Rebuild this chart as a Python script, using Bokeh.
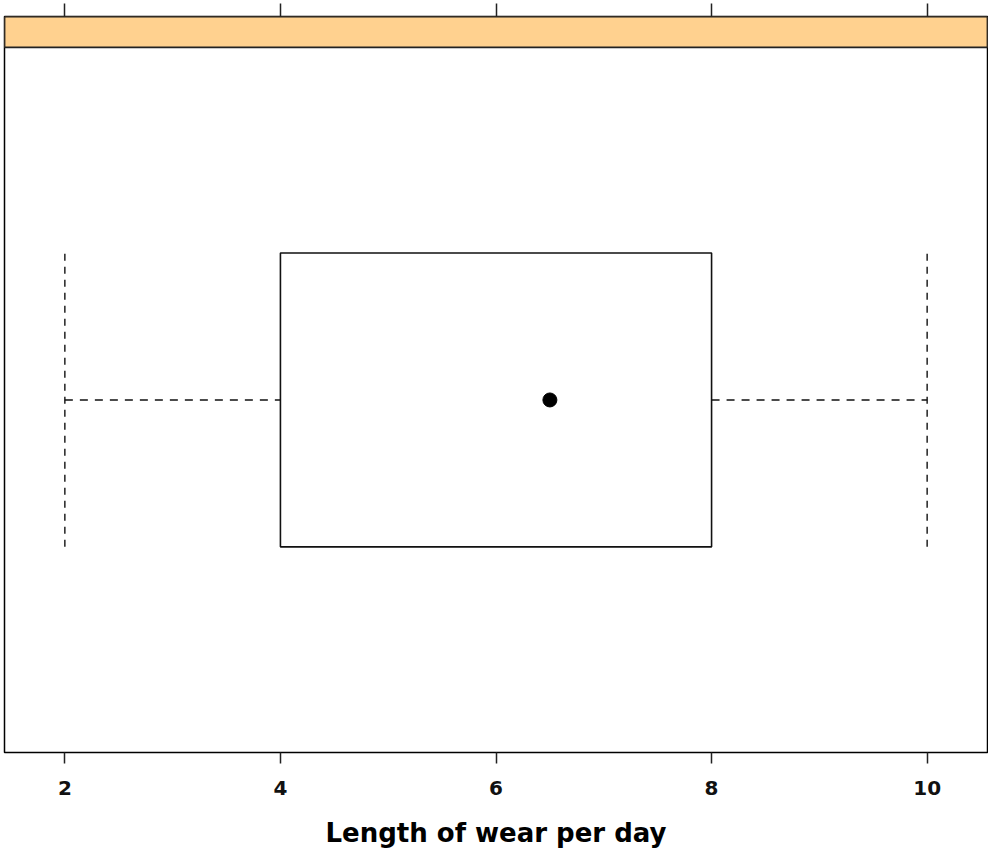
from bokeh.plotting import figure
from bokeh.models import Range1d, LinearAxis, FixedTicker, BoxAnnotation, ColumnDataSource
from bokeh.embed import file_html
from bokeh.resources import INLINE

# ---- data ----
groups = [1]
stat_min = [2]
stat_q1 = [4]
stat_med = [6.5]
stat_q3 = [8]
stat_max = [10]
x_ticks = [2, 4, 6, 8, 10]
x_label = "Length of wear per day"

# ---- style constants ----
BOX_HALF = 0.25          # half box height in category units
STRIP_FRAC = 31 / 707    # strip height relative to panel height
STRIP_COLOR = "#FFD18F"
FONT = "DejaVu Sans"

lo_all = min(stat_min)
hi_all = max(stat_max)
pad = 0.07 * (hi_all - lo_all)
y_lo, y_hi = min(groups) - 0.6, max(groups) + 0.6
strip_h = (y_hi - y_lo) * STRIP_FRAC

src = ColumnDataSource(dict(
    y=groups, lo=stat_min, q1=stat_q1, med=stat_med, q3=stat_q3, hi=stat_max,
    top=[g + BOX_HALF for g in groups], bot=[g - BOX_HALF for g in groups],
))

p = figure(width=988, height=850,
           x_range=Range1d(lo_all - pad, hi_all + pad),
           y_range=Range1d(y_lo, y_hi + strip_h),
           output_backend="svg", toolbar_location=None,
           y_axis_location=None,
           min_border_left=4, min_border_right=1,
           min_border_top=16, min_border_bottom=96)

p.xgrid.visible = False
p.ygrid.visible = False
p.outline_line_color = "black"
p.outline_line_width = 1.5
p.background_fill_color = "white"
p.border_fill_color = "white"

# strip at top of the panel
p.add_layout(BoxAnnotation(bottom=y_hi, fill_color=STRIP_COLOR, fill_alpha=1.0,
                           line_color="#222222", line_alpha=1.0, line_width=1.8,
                           level="underlay"))

# bottom axis
ax = p.xaxis[0]
ax.ticker = FixedTicker(ticks=x_ticks)
ax.axis_line_color = None
ax.major_tick_in = 0
ax.major_tick_out = 11
ax.major_tick_line_color = "#222222"
ax.major_tick_line_width = 1.5
ax.minor_tick_line_color = None
ax.major_label_text_font = FONT
ax.major_label_text_font_style = "bold"
ax.major_label_text_font_size = "20px"
ax.major_label_text_color = "#111111"
ax.major_label_standoff = 17
ax.axis_label = x_label
ax.axis_label_text_font = FONT
ax.axis_label_text_font_style = "bold"
ax.axis_label_text_font_size = "26px"
ax.axis_label_text_color = "black"
ax.axis_label_standoff = 20

# top axis: ticks only
top_ax = LinearAxis(ticker=FixedTicker(ticks=x_ticks),
                    axis_line_color=None, major_tick_in=0, major_tick_out=13,
                    major_tick_line_color="#222222", major_tick_line_width=1.5,
                    minor_tick_line_color=None,
                    major_label_overrides={t: "" for t in x_ticks},
                    major_label_text_font_size="1px", major_label_standoff=0)
p.add_layout(top_ax, "above")

# box
p.quad(left="q1", right="q3", bottom="bot", top="top", source=src,
       fill_color=None, line_color="#111111", line_width=1.6)
# whiskers
p.segment(x0="lo", y0="y", x1="q1", y1="y", source=src,
          line_color="#111111", line_width=1.4, line_dash="8 7")
p.segment(x0="q3", y0="y", x1="hi", y1="y", source=src,
          line_color="#111111", line_width=1.4, line_dash="8 7")
p.segment(x0="lo", y0="bot", x1="lo", y1="top", source=src,
          line_color="#111111", line_width=1.4, line_dash="7 6")
p.segment(x0="hi", y0="bot", x1="hi", y1="top", source=src,
          line_color="#111111", line_width=1.4, line_dash="7 6")
# median dot
p.scatter(x="med", y="y", source=src, size=14, color="black")

open("out.html", "w").write(file_html(p, INLINE))
